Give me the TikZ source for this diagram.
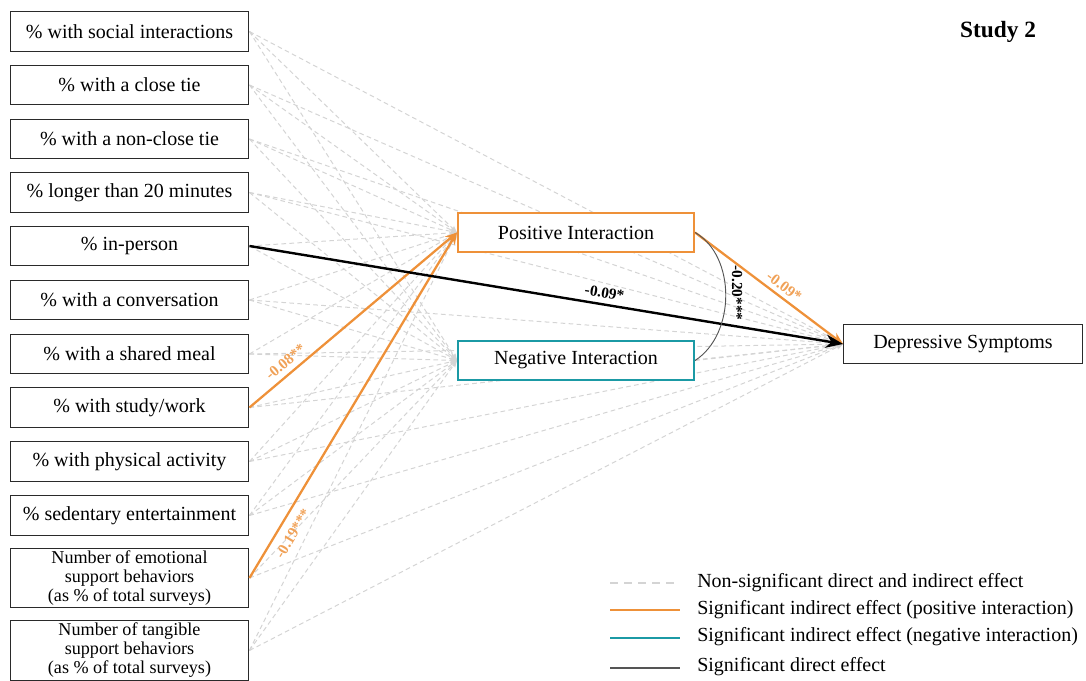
\documentclass[tikz,border=0pt]{standalone}
\usepackage{fontspec}
\setmainfont{Liberation Serif}
\usetikzlibrary{arrows.meta,backgrounds}
\definecolor{sigorange}{HTML}{EE9139}
\definecolor{sigteal}{HTML}{1B9AA5}
\definecolor{nsgray}{HTML}{D4D4D4}
\definecolor{boxgray}{HTML}{2A2A2A}
\definecolor{covgray}{HTML}{555555}
\begin{document}
\begin{tikzpicture}[x=0.75pt,y=-0.75pt,
  pred/.style={draw=boxgray, line width=0.9pt, fill=white, minimum width=179pt, minimum height=29.5pt, inner sep=0pt, font=\fontsize{15}{17}\selectfont, align=center},
  predtwo/.style={pred, minimum height=44.5pt, font=\fontsize{13.6}{14.2}\selectfont},
  medpos/.style={draw=sigorange, line width=1.6pt, fill=white, minimum width=177pt, minimum height=29.5pt, inner sep=0pt, font=\fontsize{15}{17}\selectfont},
  medneg/.style={medpos, draw=sigteal},
  outc/.style={pred},
  ns/.style={draw=nsgray, line width=0.75pt, dash pattern=on 3.5pt off 2.5pt, -{Stealth[length=5pt,width=4pt]}},
  sigo/.style={draw=sigorange, line width=1.7pt, -{Stealth[length=9pt,width=7pt]}},
  sigd/.style={draw=black, line width=1.8pt, -{Stealth[length=13pt,width=10pt]}},
  elab/.style={font=\fontsize{11.5}{13}\selectfont\bfseries, inner sep=1pt},
  olab/.style={elab, text=sigorange!85},
  legtext/.style={anchor=west, inner sep=0pt, font=\fontsize{15}{17}\selectfont}
]
\useasboundingbox (0,0) rectangle (1086,681);

% predictors
\node[pred] (p1) at (129.5,31.5) {\% with social interactions};
\node[pred] (p2) at (129.5,85) {\% with a close tie};
\node[pred] (p3) at (129.5,139) {\% with a non-close tie};
\node[pred] (p4) at (129.5,192.5) {\% longer than 20 minutes};
\node[pred] (p5) at (129.5,246) {\% in-person};
\node[pred] (p6) at (129.5,300) {\% with a conversation};
\node[pred] (p7) at (129.5,354) {\% with a shared meal};
\node[pred] (p8) at (129.5,407.5) {\% with study/work};
\node[pred] (p9) at (129.5,461.5) {\% with physical activity};
\node[pred] (p10) at (129.5,515.5) {\% sedentary entertainment};
\node[predtwo] (p11) at (129.5,578) {Number of emotional\\support behaviors\\(as \% of total surveys)};
\node[predtwo] (p12) at (129.5,650.5) {Number of tangible\\support behaviors\\(as \% of total surveys)};

% mediators and outcome
\node[medpos] (pos) at (576,232.5) {Positive Interaction};
\node[medneg] (neg) at (576,360.5) {Negative Interaction};
\node[outc] (dep) at (963,344) {Depressive Symptoms};

\node[font=\fontsize{17.5}{19}\selectfont\bfseries] (title) at (998,32) {Study 2};

% non-significant paths
\begin{pgfonlayer}{background}
\foreach \i in {1,...,12} \draw[ns] (p\i.east) -- (neg.west);
\foreach \i in {1,2,3,4,5,6,7,9,10,12} \draw[ns] (p\i.east) -- (pos.west);
\foreach \i in {1,2,3,4,6,7,8,9,10,11,12} \draw[ns] (p\i.east) -- (dep.west);
\draw[ns] (neg.east) -- (dep.west);
\end{pgfonlayer}

% significant paths
\draw[sigo] (p8.east) -- node[olab, pos=0.21, sloped, above=3pt] (l1) {-0.08**} (pos.west);
\draw[sigo] (p11.east) -- node[olab, pos=0.15, sloped, below=5pt] (l2) {-0.19***} (pos.west);
\draw[sigo] (pos.east) -- node[olab, pos=0.56, sloped, above=2pt] (l3) {-0.09*} (dep.west);
\draw[sigd] (p5.east) -- node[elab, pos=0.595, sloped, above=3pt] (l4) {-0.09*} (dep.west);

% covariance
\draw[covgray, line width=0.7pt] (pos.east) .. controls (736,256) and (736,334) .. (neg.east);
\node[elab, rotate=-90] (l5) at (737,293) {-0.20***};

% legend
\coordinate (a1) at (610,583); \coordinate (b1) at (680,583);
\coordinate (a2) at (610,610); \coordinate (b2) at (680,610);
\coordinate (a3) at (610,638); \coordinate (b3) at (680,638);
\coordinate (a4) at (610,668); \coordinate (b4) at (680,668);
\draw[draw=nsgray, line width=1.2pt, dash pattern=on 6pt off 4.5pt] (a1) -- (b1);
\draw[draw=sigorange, line width=1.6pt] (a2) -- (b2);
\draw[draw=sigteal, line width=1.6pt] (a3) -- (b3);
\draw[draw=covgray, line width=1.6pt] (a4) -- (b4);
\node[legtext] (t1) at (697,583) {Non-significant direct and indirect effect};
\node[legtext] (t2) at (697,610) {Significant indirect effect (positive interaction)};
\node[legtext] (t3) at (697,637) {Significant indirect effect (negative interaction)};
\node[legtext] (t4) at (697,667) {Significant direct effect};
\end{tikzpicture}
\end{document}
